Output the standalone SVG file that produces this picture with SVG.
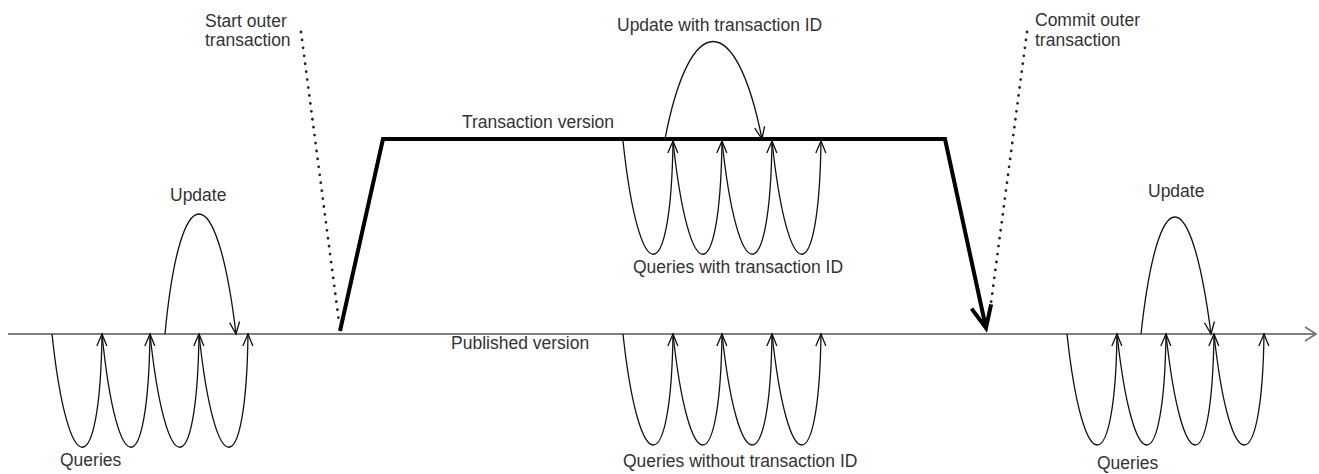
<svg xmlns="http://www.w3.org/2000/svg" width="1319" height="474" viewBox="0 0 1319 474">
<style>
text{font-family:"Liberation Sans",Arial,sans-serif;font-size:17.5px;fill:#333}
.loop{fill:none;stroke:#111;stroke-width:1.3;marker-end:url(#a)}
.dot{fill:none;stroke:#222;stroke-width:2.8;stroke-linecap:round;stroke-dasharray:0 8}
</style>
<defs>
<marker id="a" markerUnits="userSpaceOnUse" markerWidth="14" markerHeight="12" refX="12" refY="5" orient="auto" overflow="visible">
<path d="M0,0 L12,5 L0,10" fill="none" stroke="#111" stroke-width="1.3"/>
</marker>
<marker id="m" markerUnits="userSpaceOnUse" markerWidth="14" markerHeight="16" refX="11" refY="7" orient="auto" overflow="visible">
<path d="M0,0 L11,7 L0,14" fill="none" stroke="#777" stroke-width="1.8"/>
</marker>
<marker id="t" markerUnits="userSpaceOnUse" markerWidth="26" markerHeight="24" refX="22" refY="10" orient="auto" overflow="visible">
<path d="M0,0 L22,10 L0,20" fill="none" stroke="#000" stroke-width="4" stroke-linejoin="miter"/>
</marker>
</defs>
<g id="connectors">
<path id="published-line" d="M8,334 L1316,334" fill="none" stroke="#808080" stroke-width="2" marker-end="url(#m)"/>
<path id="transaction-line" d="M340,331 L383,139 L945,139 L986,328" fill="none" stroke="#000" stroke-width="4" stroke-linejoin="miter" marker-end="url(#t)"/>
<path class="dot" d="M301,32 L339,322"/>
<path class="dot" d="M1027,32 L991,303"/>
</g>
<g id="left-queries">
<path class="loop" d="M52,334 C68,485 100,485 102,334"/>
<path class="loop" d="M102,334 C117,485 148,485 150,334"/>
<path class="loop" d="M150,334 C166,485 197,485 199,334"/>
<path class="loop" d="M199,334 C215,485 246,485 248,334"/>
<text x="60" y="466">Queries</text>
</g>
<g id="left-update">
<path class="loop" d="M165,334 C180,174 217,174 236,334"/>
<text x="170" y="201">Update</text>
</g>
<g id="start-outer">
<text x="205" y="27">Start outer</text>
<text x="205" y="46">transaction</text>
</g>
<g id="transaction-version">
<text x="462" y="128">Transaction version</text>
</g>
<g id="published-version">
<text x="451" y="349">Published version</text>
</g>
<g id="update-with-id">
<path class="loop" d="M665,139 C690,9 736,9 762,139"/>
<text x="617" y="31">Update with transaction ID</text>
</g>
<g id="queries-with-id">
<path class="loop" d="M623,141 C639,292 671,292 673,141"/>
<path class="loop" d="M673,141 C689,292 720,292 722,141"/>
<path class="loop" d="M722,141 C738,292 770,292 772,141"/>
<path class="loop" d="M772,141 C788,292 819,292 821,141"/>
<text x="633" y="273">Queries with transaction ID</text>
</g>
<g id="queries-without-id">
<path class="loop" d="M623,334 C639,482 671,482 673,334"/>
<path class="loop" d="M673,334 C689,482 720,482 722,334"/>
<path class="loop" d="M722,334 C738,482 770,482 772,334"/>
<path class="loop" d="M772,334 C788,482 819,482 821,334"/>
<text x="623" y="467">Queries without transaction ID</text>
</g>
<g id="commit-outer">
<text x="1035" y="26">Commit outer</text>
<text x="1035" y="46">transaction</text>
</g>
<g id="right-update">
<path class="loop" d="M1141,334 C1158,178 1191,178 1211,334"/>
<text x="1148" y="197">Update</text>
</g>
<g id="right-queries">
<path class="loop" d="M1067,334 C1083,482 1115,482 1117,334"/>
<path class="loop" d="M1117,334 C1133,482 1164,482 1166,334"/>
<path class="loop" d="M1166,334 C1182,482 1212,482 1214,334"/>
<path class="loop" d="M1214,334 C1230,482 1262,482 1264,334"/>
<text x="1097" y="469">Queries</text>
</g>
</svg>
